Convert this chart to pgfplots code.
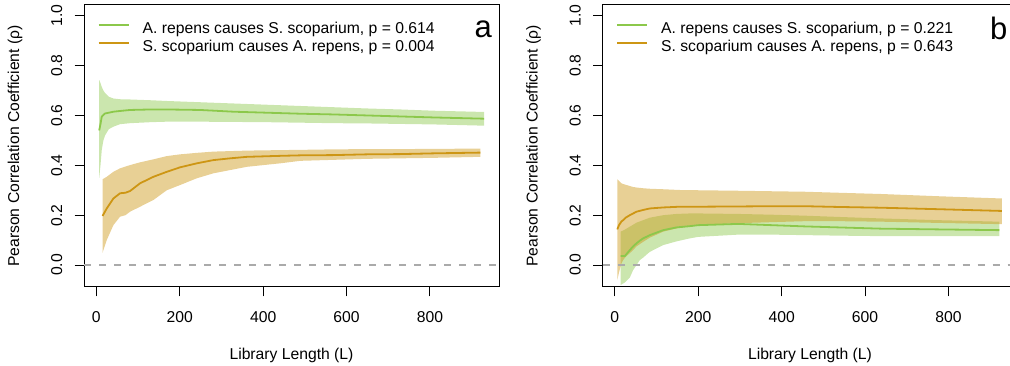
\documentclass[border=0pt]{standalone}
\usepackage{fontspec}
\setmainfont{Liberation Sans}
\usepackage{pgfplots}
\usepackage{pgfplotstable}
\pgfplotsset{compat=1.18}
\usepgfplotslibrary{fillbetween}

\definecolor{rgreen}{RGB}{140,200,75}
\definecolor{rgold}{RGB}{205,150,20}
\definecolor{rdash}{RGB}{170,170,170}

% Cross-map skill against library length: mean rho with its band (lo, hi)
\pgfplotstableread{
L   m     lo     hi
7   0.540 0.350 0.742
10  0.565 0.400 0.730
13  0.595 0.460 0.715
17  0.602 0.500 0.700
21  0.608 0.520 0.690
30  0.611 0.545 0.675
41  0.615 0.555 0.668
57  0.618 0.565 0.665
81  0.622 0.569 0.664
130 0.624 0.573 0.661
169 0.624 0.575 0.658
249 0.622 0.575 0.653
329 0.615 0.574 0.648
409 0.611 0.573 0.643
489 0.607 0.571 0.638
569 0.604 0.569 0.633
649 0.600 0.568 0.628
729 0.596 0.566 0.624
809 0.592 0.564 0.619
930 0.587 0.559 0.614
}\tabAgreen

\pgfplotstableread{
L   m     lo     hi
15  0.197 0.049 0.344
25  0.227 0.100 0.354
41  0.267 0.160 0.374
57  0.288 0.194 0.388
70  0.290 0.200 0.395
81  0.297 0.214 0.401
105 0.328 0.234 0.412
137 0.354 0.261 0.424
169 0.374 0.300 0.437
201 0.392 0.321 0.444
241 0.408 0.348 0.450
281 0.421 0.368 0.455
321 0.428 0.381 0.457
361 0.434 0.394 0.459
441 0.438 0.408 0.461
489 0.440 0.418 0.462
569 0.441 0.422 0.464
649 0.444 0.426 0.465
729 0.445 0.428 0.465
809 0.448 0.430 0.466
921 0.451 0.434 0.467
}\tabAgold

\pgfplotstableread{
L   m     lo     hi
14  0.036 -0.080 0.134
24  0.036 -0.070 0.142
36  0.060 -0.050 0.154
44  0.075 -0.020 0.162
52  0.087 0.000 0.170
60  0.098 0.020 0.175
68  0.107 0.030 0.180
84  0.120 0.053 0.190
116 0.140 0.080 0.200
148 0.151 0.095 0.205
180 0.156 0.107 0.207
200 0.160 0.113 0.207
296 0.165 0.122 0.205
376 0.160 0.122 0.202
456 0.155 0.120 0.198
536 0.151 0.118 0.193
638 0.146 0.116 0.187
776 0.143 0.116 0.180
922 0.140 0.116 0.174
}\tabBgreen

\pgfplotstableread{
L   m     lo     hi
6   0.143 -0.060 0.344
10  0.160 -0.030 0.338
16  0.175 0.007 0.328
20  0.180 0.020 0.325
26  0.190 0.033 0.322
36  0.200 0.048 0.317
44  0.207 0.060 0.313
52  0.214 0.075 0.311
68  0.221 0.093 0.308
84  0.227 0.110 0.306
116 0.231 0.134 0.304
156 0.234 0.150 0.301
200 0.234 0.160 0.300
296 0.235 0.168 0.298
376 0.236 0.172 0.296
456 0.236 0.176 0.294
536 0.233 0.176 0.290
638 0.230 0.174 0.285
776 0.224 0.169 0.276
928 0.217 0.164 0.267
}\tabBgold

\newcommand{\basefont}{\fontsize{15.7}{18}\selectfont}

\pgfplotsset{
  ccm/.style={
    scale only axis, width=415pt, height=282pt,
    xmin=-29.5, xmax=965.5, ymin=-0.088, ymax=1.043,
    axis line style={line width=1pt},
    tick style={line width=1pt, black},
    tick align=outside, major tick length=9.3pt,
    xtick={0,200,400,600,800}, ytick={0,0.2,0.4,0.6,0.8,1.0},
    xtick pos=bottom, ytick pos=left,
    minor tick num=0,
    /pgf/number format/assume math mode=true,
    yticklabel style={/pgf/number format/.cd, fixed, fixed zerofill, precision=1, /tikz/.cd},
    tick label style={font=\basefont},
    xticklabel style={anchor=center, yshift=-20.4pt},
    yticklabel style={anchor=center, xshift=-18pt, rotate=90},
    every axis x label/.style={at={(axis description cs:0.5,-0.2411)}, anchor=center, font=\basefont},
    every axis y label/.style={at={(axis description cs:-0.1663,0.5)}, anchor=center, rotate=90, font=\basefont},
    xlabel={Library Length (L)},
    ylabel={Pearson Correlation Coefficient (ρ)},
    legend style={at={(axis description cs:0.033,0.939)}, anchor=north west,
      draw=none, fill=none, inner sep=0pt, outer sep=0pt,
      font=\basefont, row sep=3pt, column sep=13pt,
      nodes={inner sep=0pt, text height=11.3pt, text depth=3.3pt}},
    legend cell align=left,
    legend image code/.code={\draw[#1, line width=2pt, opacity=1] (0pt,4.5pt) -- (30pt,4.5pt);},
  },
  band/.style={fill=#1, fill opacity=0.45, draw=none, forget plot},
  edge/.style={draw=none, forget plot},
}

\begin{document}
\begin{tikzpicture}
% panel a
\begin{axis}[ccm, at={(84pt,79pt)}, anchor=south west]
  \addplot[rdash, line width=1.6pt, dash pattern=on 7pt off 8pt, forget plot] coordinates {(-29.5,0) (965.5,0)};
  \addplot[edge, name path=agh] table[x=L, y=hi] {\tabAgreen};
  \addplot[edge, name path=agl] table[x=L, y=lo] {\tabAgreen};
  \addplot[band=rgreen] fill between[of=agh and agl];
  \addplot[edge, name path=aoh] table[x=L, y=hi] {\tabAgold};
  \addplot[edge, name path=aol] table[x=L, y=lo] {\tabAgold};
  \addplot[band=rgold] fill between[of=aoh and aol];
  \addplot[rgreen, line width=1.8pt] table[x=L, y=m] {\tabAgreen};
  \addlegendentry{A. repens causes S. scoparium, p = 0.614}
  \addplot[rgold, line width=1.8pt] table[x=L, y=m] {\tabAgold};
  \addlegendentry{S. scoparium causes A. repens, p = 0.004}
  \node[anchor=base, font=\fontsize{31}{31}\selectfont, inner sep=0pt] at (rel axis cs:0.962,0.883) {a};
\end{axis}
% panel b
\begin{axis}[ccm, at={(602.5pt,79pt)}, anchor=south west]
  \addplot[rdash, line width=1.6pt, dash pattern=on 7pt off 8pt, forget plot] coordinates {(-29.5,0) (965.5,0)};
  \addplot[edge, name path=bgh] table[x=L, y=hi] {\tabBgreen};
  \addplot[edge, name path=bgl] table[x=L, y=lo] {\tabBgreen};
  \addplot[band=rgreen] fill between[of=bgh and bgl];
  \addplot[edge, name path=boh] table[x=L, y=hi] {\tabBgold};
  \addplot[edge, name path=bol] table[x=L, y=lo] {\tabBgold};
  \addplot[band=rgold] fill between[of=boh and bol];
  \addplot[rgreen, line width=1.8pt] table[x=L, y=m] {\tabBgreen};
  \addlegendentry{A. repens causes S. scoparium, p = 0.221}
  \addplot[rgold, line width=1.8pt] table[x=L, y=m] {\tabBgold};
  \addlegendentry{S. scoparium causes A. repens, p = 0.643}
  \node[anchor=base, font=\fontsize{31}{31}\selectfont, inner sep=0pt] at (rel axis cs:0.955,0.879) {b};
\end{axis}
\pgfresetboundingbox
\useasboundingbox (0pt,0pt) rectangle (1010pt,366pt);
\end{tikzpicture}
\end{document}
